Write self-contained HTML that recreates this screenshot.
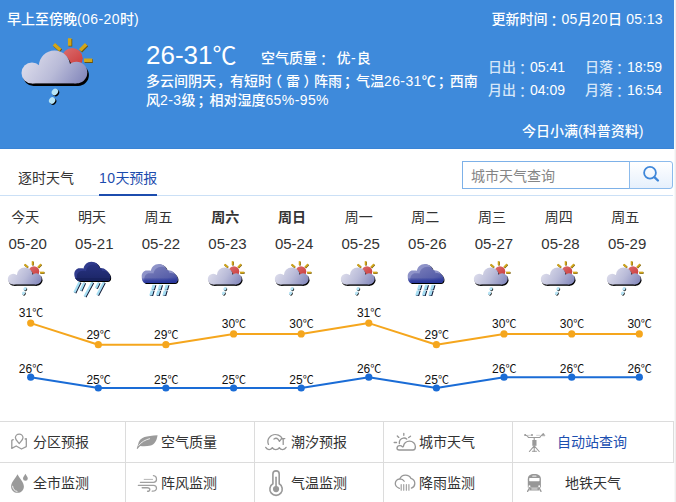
<!DOCTYPE html>
<html lang="zh-CN">
<head>
<meta charset="utf-8">
<title>深圳天气</title>
<style>
*{margin:0;padding:0;box-sizing:border-box;}
html,body{width:676px;height:502px;overflow:hidden;background:#fff;}
body{font-family:"Liberation Sans","Noto Sans CJK SC",sans-serif;color:#333;position:relative;font-size:14px;}
.abs{position:absolute;white-space:nowrap;}
#hdr{font-weight:500;position:absolute;left:0;top:0;width:674px;height:149px;background:#3e8adb;color:#fff;border-bottom:1px solid #3a84d5;}
#rstrip{position:absolute;left:674px;top:0;width:2px;height:502px;background:linear-gradient(90deg,#f8f8f8 0,#f8f8f8 50%,#eeeeee 50%,#eeeeee 100%);}
.t14{font-size:14px;line-height:18px;}
#temp{left:146px;top:40px;font-size:26px;line-height:30px;font-weight:400;}
.n{letter-spacing:0.4px;}
.n2{letter-spacing:0.35px;}
.tc{font-family:"Noto Sans CJK TC","Noto Sans CJK JP",sans-serif;line-height:0;position:relative;top:1.5px;left:-0.5px;}
.lb{color:#d6e6f8;}
.sc{position:relative;left:2px;}
#tabline{position:absolute;left:0;top:195px;width:673px;height:1px;background:#cbe0f6;}
#tabul{position:absolute;left:99px;top:194px;width:58px;height:2px;background:#1c4cae;}
#sinput{position:absolute;left:462px;top:161px;width:168px;height:28px;border:1px solid #7db1e8;background:#fff;color:#858585;font-size:14px;line-height:28px;padding-left:8px;}
#sbtn{position:absolute;left:629px;top:161px;width:44px;height:28px;border:1px solid #8cbbec;border-radius:0 3px 3px 0;background:linear-gradient(#ffffff,#e6f0fc);}
.day{position:absolute;width:66px;text-align:center;font-size:14px;line-height:18px;color:#333;white-space:nowrap;}
.date{position:absolute;width:66px;text-align:center;font-size:15px;line-height:18px;color:#333;white-space:nowrap;}
.b{font-weight:bold;}
.wi{position:absolute;overflow:visible;}
.gi{position:absolute;overflow:visible;}
.cl{font-family:"Liberation Sans","Noto Sans CJK SC",sans-serif;font-size:12px;fill:#111;}
.cell{position:absolute;font-size:14px;line-height:18px;color:#333;white-space:nowrap;}
.hl{position:absolute;background:#dcdcdc;height:1px;}
.vl{position:absolute;background:#dcdcdc;width:1px;}
</style>
</head>
<body>
<svg width="0" height="0" style="position:absolute;left:0;top:0;">
<defs>
  <linearGradient id="gCloud" gradientUnits="userSpaceOnUse" x1="30" y1="52" x2="82" y2="86">
    <stop offset="0" stop-color="#dcdceb"/><stop offset="0.5" stop-color="#b9bbd8"/><stop offset="1" stop-color="#8387bb"/>
  </linearGradient>
  <linearGradient id="gSun" gradientUnits="userSpaceOnUse" x1="66" y1="48" x2="80" y2="68">
    <stop offset="0" stop-color="#d9696a"/><stop offset="1" stop-color="#cc3a3a"/>
  </linearGradient>
  <linearGradient id="gNavy" gradientUnits="userSpaceOnUse" x1="0" y1="3" x2="0" y2="23">
    <stop offset="0" stop-color="#283381"/><stop offset="1" stop-color="#18225f"/>
  </linearGradient>
  <linearGradient id="gBand" gradientUnits="userSpaceOnUse" x1="0" y1="18.5" x2="0" y2="24"><stop offset="0" stop-color="#2a389c" stop-opacity="0"/><stop offset="0.55" stop-color="#2a389c" stop-opacity="0.75"/><stop offset="1" stop-color="#26349a" stop-opacity="1"/></linearGradient>
  <linearGradient id="gMid" gradientUnits="userSpaceOnUse" x1="14" y1="6" x2="24" y2="27">
    <stop offset="0" stop-color="#7277b6"/><stop offset="0.6" stop-color="#575fa9"/><stop offset="1" stop-color="#243299"/>
  </linearGradient>
  <!-- cloud shape in big coords -->
  <g id="cloudShape">
    <circle cx="54.5" cy="66" r="15.6"/><circle cx="32" cy="73" r="10.5"/><circle cx="76.5" cy="72.5" r="10.8"/>
    <rect x="32" y="66" width="44.5" height="17.4"/>
  </g>
  <g id="sunCloud">
    <g stroke="#6b5410" stroke-width="3.7" stroke-linecap="butt" transform="translate(0.7,0.8)">
      <line x1="53.9" y1="44.3" x2="60.3" y2="50"/><line x1="69.7" y1="38.3" x2="69.7" y2="45.8"/>
      <line x1="86.2" y1="44.2" x2="80.1" y2="50.4"/><line x1="84" y1="60.3" x2="92.2" y2="60.3"/>
    </g>
    <g stroke="#d2a619" stroke-width="3.5" stroke-linecap="butt">
      <line x1="53.9" y1="44.3" x2="60.3" y2="50"/><line x1="69.7" y1="38.3" x2="69.7" y2="45.8"/>
      <line x1="86.2" y1="44.2" x2="80.1" y2="50.4"/><line x1="84" y1="60.3" x2="92.2" y2="60.3"/>
    </g>
    <circle cx="72.3" cy="58.3" r="10.4" fill="url(#gSun)"/>
    <use href="#cloudShape" fill="#000" transform="translate(1.6,2.6)"/>
    <use href="#cloudShape" fill="url(#gCloud)"/>
    <ellipse cx="56" cy="93" rx="3" ry="3.5" fill="#000" transform="rotate(35 56 93)"/>
    <ellipse cx="54.9" cy="91.9" rx="3" ry="3.5" fill="#b6e4f6" transform="rotate(35 54.9 91.9)"/>
    <ellipse cx="53.2" cy="101.6" rx="3" ry="3.4" fill="#000" transform="rotate(35 53.2 101.6)"/>
    <ellipse cx="52.1" cy="100.5" rx="3" ry="3.4" fill="#b6e4f6" transform="rotate(35 52.1 100.5)"/>
  </g>
  <symbol id="i-sc" viewBox="18 34 77.7 77.7"><use href="#sunCloud"/></symbol>
  <!-- heavy rain : local 40x40 -->
  <path id="navyShape" d="M7 22 C3.4 22 1.3 18.6 1.3 15.2 C1.3 11.8 3.6 9.3 6.4 9.3 C7.8 9.2 9.5 9.2 10.6 9.6 C11 6 14 2.7 18.5 2.7 C22.5 2.7 26 5.5 26.8 9.2 C29 8.8 31.6 9.6 33.5 11.6 C35.5 13.6 37.3 15.8 37.3 18 C37.3 20.5 36 22 34 22 Z"/>
  <clipPath id="navyClip"><use href="#navyShape"/></clipPath>
  <symbol id="i-hr" viewBox="0 0 40 40">
    <g stroke-width="2.3" stroke-linecap="butt" fill="none">
      <g stroke="#0d1330" transform="translate(0.8,0.4)">
        <line x1="6.6" y1="23" x2="1.4" y2="33.6"/><line x1="11.2" y1="23.7" x2="7.5" y2="31.6"/><line x1="19.3" y1="23.3" x2="11.6" y2="37.5"/>
        <line x1="25.7" y1="23.7" x2="23" y2="29"/><line x1="30.9" y1="23.3" x2="24.2" y2="36"/>
      </g>
      <g stroke="#a6def3">
        <line x1="6.6" y1="23" x2="1.4" y2="33.6"/><line x1="11.2" y1="23.7" x2="7.5" y2="31.6"/><line x1="19.3" y1="23.3" x2="11.6" y2="37.5"/>
        <line x1="25.7" y1="23.7" x2="23" y2="29"/><line x1="30.9" y1="23.3" x2="24.2" y2="36"/>
      </g>
    </g>
    <use href="#navyShape" fill="#000" transform="translate(0.9,0.9)"/>
    <use href="#navyShape" fill="#303b8d"/>
    <g clip-path="url(#navyClip)"><use href="#navyShape" fill="url(#gNavy)" transform="translate(2.4,2.6)"/><rect x="0" y="19" width="40" height="4" fill="#18225f"/></g>
  </symbol>
  <!-- moderate rain : local 40x40, origin (140.15,259) -->
  <path id="midShape" d="M5.6 24 C3 24 1.7 20.5 1.7 17.2 C1.7 14 4 11.5 6.5 11.5 C8 11.4 9.8 11.4 10.9 11.8 C11.4 8 14.5 4.9 18.8 4.9 C22.8 4.9 26.2 7.6 27.1 11.4 C29.4 11 31.9 11.6 33.8 13.6 C35.8 15.6 37.6 17.8 37.6 20 C37.6 22.5 36.3 24 34.3 24 Z"/>
  <clipPath id="midClip"><use href="#midShape"/></clipPath>
  <symbol id="i-mr" viewBox="0 0 40 40">
    <use href="#midShape" fill="#000" transform="translate(0.9,0.9)"/>
    <use href="#midShape" fill="#8e93c8"/>
    <g clip-path="url(#midClip)"><use href="#midShape" fill="url(#gMid)" transform="translate(2.6,2.8)"/><rect x="0" y="18.5" width="40" height="6" fill="url(#gBand)"/></g>
    <g>
      <g fill="#0d1330" transform="translate(0.9,0.6)">
        <path d="M12.5 25.7 h3 l-1.5 5 h-3z M10.7 31.4 h3 l-1.5 5 h-3z M19.1 25.7 h3 l-1.5 5 h-3z M17.3 31.4 h3 l-1.5 5 h-3z M25.6 25.7 h3 l-1.5 5 h-3z M23.8 31.4 h3 l-1.5 5 h-3z"/>
      </g>
      <path fill="#a6def3" d="M12.5 25.7 h3 l-1.5 5 h-3z M10.7 31.4 h3 l-1.5 5 h-3z M19.1 25.7 h3 l-1.5 5 h-3z M17.3 31.4 h3 l-1.5 5 h-3z M25.6 25.7 h3 l-1.5 5 h-3z M23.8 31.4 h3 l-1.5 5 h-3z"/>
    </g>
  </symbol>
</defs>
</svg>
<div id="hdr">
  <div class="abs t14" style="left:7px;top:10px;">早上至傍晚<span class="n">(06-20</span>时<span class="n">)</span></div>
  <div class="abs t14" style="right:11px;top:10px;">更新时间<span class="tc" lang="zh-TW">：</span><span class="n2">05</span>月<span class="n2">20</span>日<span class="n2"> 05:13</span></div>
  <svg class="wi" style="left:18px;top:34px;" width="77.7" height="77.7"><use href="#i-sc"/></svg>
  <div class="abs" id="temp">26-31<span style="font-size:24px;">℃</span></div>
  <div class="abs t14" style="left:261px;top:49px;word-spacing:1.5px;">空气质量<span class="tc" lang="zh-TW">：</span> 优<span style="letter-spacing:1.2px;margin-left:0.6px;">-</span>良</div>
  <div class="abs t14" style="left:146px;top:72px;">多云间阴天<span class="sc" style="left:1px;">，</span>有短时<span style="position:relative;left:-4px;">（</span>雷<span style="position:relative;left:3.5px;">）</span>阵雨<span class="sc">；</span>气温<span class="n">26-31</span>℃<span class="sc">；</span>西南</div>
  <div class="abs t14" style="left:146px;top:91px;">风<span class="n">2-3</span>级<span class="sc">；</span>相对湿度<span class="n">65%-95%</span></div>
  <div class="abs t14" style="left:488px;top:58px;"><span class="lb">日出<span class="tc" lang="zh-TW">：</span></span>05:41</div>
  <div class="abs t14" style="left:585px;top:58px;"><span class="lb">日落<span class="tc" lang="zh-TW">：</span></span>18:59</div>
  <div class="abs t14" style="left:488px;top:81px;"><span class="lb">月出<span class="tc" lang="zh-TW">：</span></span>04:09</div>
  <div class="abs t14" style="left:585px;top:81px;"><span class="lb">月落<span class="tc" lang="zh-TW">：</span></span>16:54</div>
  <div class="abs t14" style="left:522px;top:122px;">今日小满(科普资料)</div>
</div>
<div id="rstrip"></div>

<div class="abs t14" style="left:18px;top:169px;color:#333;">逐时天气</div>
<div class="abs t14" style="left:99px;top:169px;color:#1c4cae;"><span class="n">10</span>天预报</div>
<div id="tabline"></div>
<div id="tabul"></div>
<div id="sinput">城市天气查询</div>
<div id="sbtn"><svg width="42" height="26" viewBox="630 162 42 26" style="position:absolute;left:0;top:0;" fill="none" stroke="#3f87d9" stroke-width="1.8" stroke-linecap="round"><circle cx="650" cy="172.8" r="5.9"/><path d="M654.4 177.2 L657.9 180.5" stroke-width="2.4"/></svg></div>
<div class="day" style="left:-7.7px;top:208px;">今天</div>
<div class="day" style="left:59.0px;top:208px;">明天</div>
<div class="day" style="left:125.6px;top:208px;">周五</div>
<div class="day b" style="left:192.3px;top:208px;">周六</div>
<div class="day b" style="left:259.0px;top:208px;">周日</div>
<div class="day" style="left:325.7px;top:208px;">周一</div>
<div class="day" style="left:392.3px;top:208px;">周二</div>
<div class="day" style="left:459.0px;top:208px;">周三</div>
<div class="day" style="left:525.7px;top:208px;">周四</div>
<div class="day" style="left:592.3px;top:208px;">周五</div>
<div class="date" style="left:-5.3px;top:235px;">05-20</div>
<div class="date" style="left:61.3px;top:235px;">05-21</div>
<div class="date" style="left:127.9px;top:235px;">05-22</div>
<div class="date" style="left:194.5px;top:235px;">05-23</div>
<div class="date" style="left:261.1px;top:235px;">05-24</div>
<div class="date" style="left:327.7px;top:235px;">05-25</div>
<div class="date" style="left:394.3px;top:235px;">05-26</div>
<div class="date" style="left:460.9px;top:235px;">05-27</div>
<div class="date" style="left:527.5px;top:235px;">05-28</div>
<div class="date" style="left:594.1px;top:235px;">05-29</div>
<svg class="wi" style="left:6.45px;top:259px;" width="40" height="40"><use href="#i-sc"/></svg>
<svg class="wi" style="left:73.00px;top:259px;" width="40" height="40"><use href="#i-hr"/></svg>
<svg class="wi" style="left:139.55px;top:259px;" width="40" height="40"><use href="#i-mr"/></svg>
<svg class="wi" style="left:206.10px;top:259px;" width="40" height="40"><use href="#i-sc"/></svg>
<svg class="wi" style="left:272.65px;top:259px;" width="40" height="40"><use href="#i-sc"/></svg>
<svg class="wi" style="left:339.20px;top:259px;" width="40" height="40"><use href="#i-sc"/></svg>
<svg class="wi" style="left:405.75px;top:259px;" width="40" height="40"><use href="#i-mr"/></svg>
<svg class="wi" style="left:472.30px;top:259px;" width="40" height="40"><use href="#i-sc"/></svg>
<svg class="wi" style="left:538.85px;top:259px;" width="40" height="40"><use href="#i-sc"/></svg>
<svg class="wi" style="left:605.40px;top:259px;" width="40" height="40"><use href="#i-sc"/></svg>
<svg id="chart" width="676" height="100" viewBox="0 300 676 100" style="position:absolute;left:0;top:300px;">
<polyline points="30.7,323.1 98.3,344.7 165.9,344.7 233.6,333.9 301.2,333.9 368.8,323.1 436.4,344.7 504.0,333.9 571.7,333.9 639.3,333.9" fill="none" stroke="#f5a61d" stroke-width="2" stroke-linejoin="round"/>
<circle cx="30.7" cy="323.1" r="3.6" fill="#f5a61d"/>
<circle cx="98.3" cy="344.7" r="3.6" fill="#f5a61d"/>
<circle cx="165.9" cy="344.7" r="3.6" fill="#f5a61d"/>
<circle cx="233.6" cy="333.9" r="3.6" fill="#f5a61d"/>
<circle cx="301.2" cy="333.9" r="3.6" fill="#f5a61d"/>
<circle cx="368.8" cy="323.1" r="3.6" fill="#f5a61d"/>
<circle cx="436.4" cy="344.7" r="3.6" fill="#f5a61d"/>
<circle cx="504.0" cy="333.9" r="3.6" fill="#f5a61d"/>
<circle cx="571.7" cy="333.9" r="3.6" fill="#f5a61d"/>
<circle cx="639.3" cy="333.9" r="3.6" fill="#f5a61d"/>
<text x="31.0" y="317.1" text-anchor="middle" class="cl">31<tspan font-size="11">℃</tspan></text>
<text x="98.6" y="338.7" text-anchor="middle" class="cl">29<tspan font-size="11">℃</tspan></text>
<text x="166.2" y="338.7" text-anchor="middle" class="cl">29<tspan font-size="11">℃</tspan></text>
<text x="233.9" y="327.9" text-anchor="middle" class="cl">30<tspan font-size="11">℃</tspan></text>
<text x="301.5" y="327.9" text-anchor="middle" class="cl">30<tspan font-size="11">℃</tspan></text>
<text x="369.1" y="317.1" text-anchor="middle" class="cl">31<tspan font-size="11">℃</tspan></text>
<text x="436.7" y="338.7" text-anchor="middle" class="cl">29<tspan font-size="11">℃</tspan></text>
<text x="504.3" y="327.9" text-anchor="middle" class="cl">30<tspan font-size="11">℃</tspan></text>
<text x="572.0" y="327.9" text-anchor="middle" class="cl">30<tspan font-size="11">℃</tspan></text>
<text x="639.6" y="327.9" text-anchor="middle" class="cl">30<tspan font-size="11">℃</tspan></text>
<polyline points="30.7,377.2 98.3,388.0 165.9,388.0 233.6,388.0 301.2,388.0 368.8,377.2 436.4,388.0 504.0,377.2 571.7,377.2 639.3,377.2" fill="none" stroke="#1a6cd6" stroke-width="2" stroke-linejoin="round"/>
<circle cx="30.7" cy="377.2" r="3.6" fill="#1a6cd6"/>
<circle cx="98.3" cy="388.0" r="3.6" fill="#1a6cd6"/>
<circle cx="165.9" cy="388.0" r="3.6" fill="#1a6cd6"/>
<circle cx="233.6" cy="388.0" r="3.6" fill="#1a6cd6"/>
<circle cx="301.2" cy="388.0" r="3.6" fill="#1a6cd6"/>
<circle cx="368.8" cy="377.2" r="3.6" fill="#1a6cd6"/>
<circle cx="436.4" cy="388.0" r="3.6" fill="#1a6cd6"/>
<circle cx="504.0" cy="377.2" r="3.6" fill="#1a6cd6"/>
<circle cx="571.7" cy="377.2" r="3.6" fill="#1a6cd6"/>
<circle cx="639.3" cy="377.2" r="3.6" fill="#1a6cd6"/>
<text x="31.0" y="372.7" text-anchor="middle" class="cl">26<tspan font-size="11">℃</tspan></text>
<text x="98.6" y="383.5" text-anchor="middle" class="cl">25<tspan font-size="11">℃</tspan></text>
<text x="166.2" y="383.5" text-anchor="middle" class="cl">25<tspan font-size="11">℃</tspan></text>
<text x="233.9" y="383.5" text-anchor="middle" class="cl">25<tspan font-size="11">℃</tspan></text>
<text x="301.5" y="383.5" text-anchor="middle" class="cl">25<tspan font-size="11">℃</tspan></text>
<text x="369.1" y="372.7" text-anchor="middle" class="cl">26<tspan font-size="11">℃</tspan></text>
<text x="436.7" y="383.5" text-anchor="middle" class="cl">25<tspan font-size="11">℃</tspan></text>
<text x="504.3" y="372.7" text-anchor="middle" class="cl">26<tspan font-size="11">℃</tspan></text>
<text x="572.0" y="372.7" text-anchor="middle" class="cl">26<tspan font-size="11">℃</tspan></text>
<text x="639.6" y="372.7" text-anchor="middle" class="cl">26<tspan font-size="11">℃</tspan></text>
</svg>
<div class="hl" style="left:0;top:421px;width:674px;"></div>
<div class="hl" style="left:0;top:462px;width:674px;"></div>
<div class="vl" style="left:125px;top:421px;height:81px;"></div>
<div class="vl" style="left:254px;top:421px;height:81px;"></div>
<div class="vl" style="left:383px;top:421px;height:81px;"></div>
<div class="vl" style="left:512px;top:421px;height:81px;"></div>
<div class="vl" style="left:673px;top:421px;height:42px;"></div>

<div class="cell" style="left:33px;top:433px;">分区预报</div>
<div class="cell" style="left:161px;top:433px;">空气质量</div>
<div class="cell" style="left:291px;top:433px;">潮汐预报</div>
<div class="cell" style="left:419px;top:433px;">城市天气</div>
<div class="cell" style="left:557px;top:433px;color:#1c4fb0;">自动站查询</div>
<div class="cell" style="left:33px;top:474px;">全市监测</div>
<div class="cell" style="left:161px;top:474px;">阵风监测</div>
<div class="cell" style="left:291px;top:474px;">气温监测</div>
<div class="cell" style="left:419px;top:474px;">降雨监测</div>
<div class="cell" style="left:565px;top:474px;">地铁天气</div>

<!-- map pin -->
<svg class="gi" style="left:9px;top:432px;" width="20" height="20" viewBox="9 432 20 20" fill="none" stroke="#9a9a9a" stroke-width="1.3" stroke-linejoin="round" stroke-linecap="round">
  <path d="M19.2 443.6 C17.8 441.8 15.4 439.8 15.4 437.8 A3.8 3.7 0 0 1 23 437.8 C23 439.8 20.6 441.8 19.2 443.6 Z"/>
  <path d="M13.2 439.6 L11.8 440.4 L11.8 448.4 L16.2 446 L21.5 449 L26.3 446.6 L26.3 438.7 L25.2 439"/>
</svg>
<!-- leaf -->
<svg class="gi" style="left:135px;top:432px;" width="26" height="20" viewBox="135 432 26 20">
  <path d="M157.6 435.2 C152 435.5 147.5 436.1 144.5 437.1 C141 438.3 138.5 441 138.1 444.4 L136.7 448.4 L137.6 449 C138.6 447.6 139.4 446.7 140.4 446.1 C143.5 446.4 147.5 446.4 150.8 445.5 C154.6 444.3 156.6 441 157.6 435.2 Z" fill="#9b9b9b"/>
  <path d="M138.7 445.4 C141.4 442 145 439.9 149.6 438.7" fill="none" stroke="#fff" stroke-width="0.8" stroke-linecap="round"/>
</svg>
<!-- tide -->
<svg class="gi" style="left:263px;top:431px;" width="26" height="22" viewBox="263 431 26 22" fill="none" stroke="#979797" stroke-width="1.3" stroke-linecap="round" stroke-linejoin="round">
  <path d="M268.5 444.4 C267.6 442.4 267.7 439.6 269.4 437.4 C271.4 434.8 275.2 433.8 278.4 435.2 C280.2 436 281.6 437.4 282.4 438.8"/>
  <path d="M281.4 438.6 L284.8 438.6 M283.2 438.8 L283.2 444.4"/>
  <path d="M274 439 C275.4 438 277 438.2 278 439.2 C278.6 439.9 279 440.7 279.4 441.4 L281.4 438.8"/>
  <path d="M265.7 447.4 C267.2 450.2 270.8 450.2 272.3 447.6 C273.8 450.2 277.8 450.2 279.3 447.6 C280.8 450.2 284.6 450.2 286.1 447.4"/>
</svg>
<!-- city weather: sun + cloud -->
<svg class="gi" style="left:392px;top:431px;" width="26" height="22" viewBox="392 431 26 22" fill="none" stroke="#979797" stroke-width="1.35" stroke-linecap="round" stroke-linejoin="round">
  <path d="M399.2 450 L413 450 C414.6 450 415.4 448.4 415.4 446.8 C415.4 443.6 412.8 441.1 409.5 441.1 C406.4 441.1 403.9 443.4 403.4 446.4 C403.2 447 402.6 447.1 402.2 446.6 C401.6 445.8 400.6 445.5 399.6 445.6 C398 445.8 397 446.9 397 448.2 C397 449.3 397.8 450 399.2 450 Z"/>
  <path d="M399.4 443.5 C398.9 440.9 400.7 438.5 403.2 438.1 C404.6 437.9 405.8 438.2 406.7 439"/>
  <path d="M394.2 442.5 L396.5 442.5 M397.3 435.9 L398.8 437.4 M403.8 433.4 L403.8 435.2 M410.5 436.2 L408.7 437.5"/>
</svg>
<!-- station -->
<svg class="gi" style="left:522px;top:431px;" width="26" height="23" viewBox="522 431 26 23" fill="none" stroke="#9a9a9a" stroke-width="1.1" stroke-linecap="round" stroke-linejoin="round">
  <path d="M525.2 435.1 L527.4 436 L528.4 437.5 L539.8 437.5 L541 435.8 L542.8 434.2"/>
  <path d="M527.4 435.4 L531.8 435.2 M536.6 435.3 L539.6 435.3" stroke-width="0.7" stroke="#bdbdbd"/>
  <circle cx="525.1" cy="435.1" r="1" fill="#9a9a9a" stroke="none"/><circle cx="532" cy="435.1" r="1" fill="#9a9a9a" stroke="none"/>
  <path d="M542 435.4 L543.4 433.2 L544.8 435.5 Z" fill="#9a9a9a" stroke-width="0.6"/>
  <path d="M534.2 437.5 L534.2 440"/>
  <rect x="532.3" y="440" width="4.2" height="5.8" fill="#9a9a9a" stroke="none"/>
  <path d="M534.2 445.8 L529.4 451.5 M534.2 445.8 L539.2 451.5 M534.2 445.8 L534.2 451.4 M532.4 451.2 L536.4 451.2"/>
</svg>
<!-- drops -->
<svg class="gi" style="left:9px;top:472px;" width="22" height="24" viewBox="9 472 22 24">
  <path d="M17.5 474.2 C19.4 478.4 23.9 482.2 23.9 486.4 C23.9 490 21.2 492.8 17.5 492.8 C13.8 492.8 11.1 490 11.1 486.4 C11.1 482.2 15.6 478.4 17.5 474.2 Z" fill="#9a9a9a"/>
  <path d="M12.6 486.2 C12.8 489.2 14.6 491 17 491.4" fill="none" stroke="#fff" stroke-width="0.9" stroke-linecap="round"/>
  <path d="M25.4 473.8 C26.2 475.8 27.8 477 27.8 478.5 A2.4 2.3 0 0 1 23 478.5 C23 477 24.6 475.8 25.4 473.8 Z" fill="#9a9a9a"/>
</svg>
<!-- wind -->
<svg class="gi" style="left:136px;top:473px;" width="24" height="22" viewBox="136 473 24 22" fill="none" stroke="#a0a0a0" stroke-width="1.25" stroke-linecap="round">
  <path d="M144.2 479.4 L152.6 479.4" stroke-width="0.9" stroke="#adadad"/>
  <path d="M140.4 482.3 L153.4 482.3 C155.4 482.3 156.5 480.8 156.5 479.2 C156.5 477.2 155.2 475.8 153.4 475.6"/>
  <path d="M138.3 485.3 L153.4 485.3 C155.4 485.3 156.5 486.8 156.5 488.2 C156.5 490.2 154.8 491.4 152.2 491.2"/>
  <path d="M142.2 487.8 L147.2 487.8 C148.8 487.8 149.8 488.6 149.8 489.6 C149.8 490.8 148.8 491.4 147.6 491.3" stroke-width="1.4"/>
</svg>
<!-- thermometer -->
<svg class="gi" style="left:266px;top:469px;" width="20" height="28" viewBox="266 469 20 28" fill="none" stroke="#999" stroke-width="1.6">
  <path d="M272.9 483.8 L272.9 474 A3.15 3.15 0 0 1 279.2 474 L279.2 483.8 A6.2 6.2 0 1 1 272.9 483.8 Z"/>
  <circle cx="276.05" cy="489.1" r="3.1" fill="#999" stroke="none"/>
  <path d="M276.05 489 L276.05 477.2" stroke-width="1.6" stroke-linecap="round"/>
</svg>
<!-- rain cloud -->
<svg class="gi" style="left:393px;top:473px;" width="24" height="20" viewBox="393 473 24 20" fill="none" stroke="#979797" stroke-width="1.3" stroke-linecap="round">
  <path d="M399.4 488.3 C396.8 487.4 395.2 485.6 395.3 483.4 C395.4 481 397.4 479.2 399.9 478.8 C401.6 478.8 403.4 479.8 404.2 481.2"/>
  <path d="M400 478.6 C400.8 476.6 402.8 475.1 405.3 475.1 C408 475.1 410.2 476.6 411 478.4 C413.2 479.2 414.9 481.2 414.8 483.6 C414.7 485.8 413.4 487.4 411.4 488.1"/>
  <path d="M401.2 484.6 L401.2 490.2 M403.7 484.6 L403.7 490.2 M406.4 484.6 L406.4 490.2 M408.9 484.6 L408.9 490.2" stroke-width="1.25" stroke="#a6a6a6"/>
</svg>
<!-- train -->
<svg class="gi" style="left:524px;top:472px;" width="20" height="22" viewBox="524 472 20 22">
  <path d="M527.8 479.2 C527.8 475.6 530.2 474 534.35 474 C538.5 474 540.9 475.6 540.9 479.2 L540.9 487.5 L527.8 487.5 Z" fill="#979797"/>
  <rect x="529.2" y="478" width="10.3" height="3.2" rx="0.4" fill="#fff"/>
  <rect x="532.2" y="475.4" width="4.3" height="1.4" rx="0.6" fill="#e4e4e4"/>
  <circle cx="529.5" cy="486.3" r="0.95" fill="#fff"/><circle cx="539.2" cy="486.3" r="0.95" fill="#fff"/>
  <path d="M530 487.5 L538.7 487.5 L539.6 490.6 L529.1 490.6 Z" fill="#9a9a9a"/>
  <rect x="531.4" y="488.4" width="6.1" height="1.1" fill="#e0e0e0"/>
  <path d="M529.6 487.8 L527.6 491.4 M539.1 487.8 L541 491.4" stroke="#979797" stroke-width="1.3" stroke-linecap="round" fill="none"/>
</svg>
</body>
</html>
